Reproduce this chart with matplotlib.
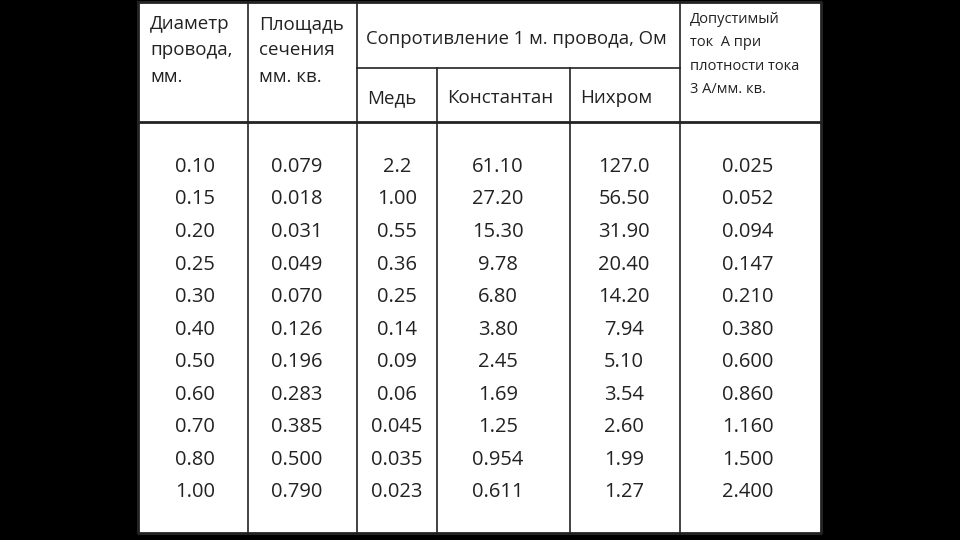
import matplotlib.pyplot as plt
from matplotlib import font_manager

diameter = ["0.10", "0.15", "0.20", "0.25", "0.30", "0.40", "0.50", "0.60", "0.70", "0.80", "1.00"]
area = ["0.079", "0.018", "0.031", "0.049", "0.070", "0.126", "0.196", "0.283", "0.385", "0.500", "0.790"]
copper = ["2.2", "1.00", "0.55", "0.36", "0.25", "0.14", "0.09", "0.06", "0.045", "0.035", "0.023"]
constantan = ["61.10", "27.20", "15.30", "9.78", "6.80", "3.80", "2.45", "1.69", "1.25", "0.954", "0.611"]
nichrome = ["127.0", "56.50", "31.90", "20.40", "14.20", "7.94", "5.10", "3.54", "2.60", "1.99", "1.27"]
current = ["0.025", "0.052", "0.094", "0.147", "0.210", "0.380", "0.600", "0.860", "1.160", "1.500", "2.400"]

columns = [diameter, area, copper, constantan, nichrome, current]

names = {f.name for f in font_manager.fontManager.ttflist}
font = "Liberation Sans Narrow" if "Liberation Sans Narrow" in names else "Open Sans"
plt.rcParams["font.family"] = font

fig = plt.figure(figsize=(9.6, 5.4), dpi=100, facecolor="black")
ax = fig.add_axes([0, 0, 1, 1])
ax.set_xlim(0, 960)
ax.set_ylim(540, 0)
ax.axis("off")

left, right, top, bottom = 138, 821, 2, 533
xs = [248, 357, 437, 570, 680]
ax.fill_between([left, right], top, bottom, color="white", zorder=0)
lc = "#222222"
ax.plot([left, right, right, left, left], [top, top, bottom, bottom, top], color=lc, lw=2)
ax.plot([left, right], [122, 122], color=lc, lw=2)
ax.plot([357, 680], [68, 68], color=lc, lw=1.2)
for x in xs:
    y0 = 68 if x in (437, 570) else top
    ax.plot([x, x], [y0, bottom], color=lc, lw=1.2)

tc = "#222222"
ax.text(150, 15, "Диаметр\nпровода,\nмм.", fontsize=13.5, color=tc, va="top", ha="left", linespacing=1.6)
ax.text(259, 15, "Площадь\nсечения\nмм. кв.", fontsize=13.5, color=tc, va="top", ha="left", linespacing=1.6)
ax.text(516, 39, "Сопротивление 1 м. провода, Ом", fontsize=13.3, color=tc, va="center", ha="center")
ax.text(367, 98, "Медь", fontsize=13.5, color=tc, va="center", ha="left")
ax.text(447, 98, "Константан", fontsize=13.5, color=tc, va="center", ha="left")
ax.text(580, 98, "Нихром", fontsize=13.5, color=tc, va="center", ha="left")
ax.text(690, 12, "Допустимый\nток  А при\nплотности тока\n3 А/мм. кв.", fontsize=10.5, color=tc,
        va="top", ha="left", linespacing=1.75)

centers = [195, 297, 397, 498, 624, 748]
row_y = [167, 199, 232, 265, 297, 330, 362, 395, 427, 460, 492]
for cx, col in zip(centers, columns):
    for y, v in zip(row_y, col):
        ax.text(cx, y, v, fontsize=14.5, color=tc, ha="center", va="center")

fig.savefig("out.png", dpi=100, facecolor="black")
